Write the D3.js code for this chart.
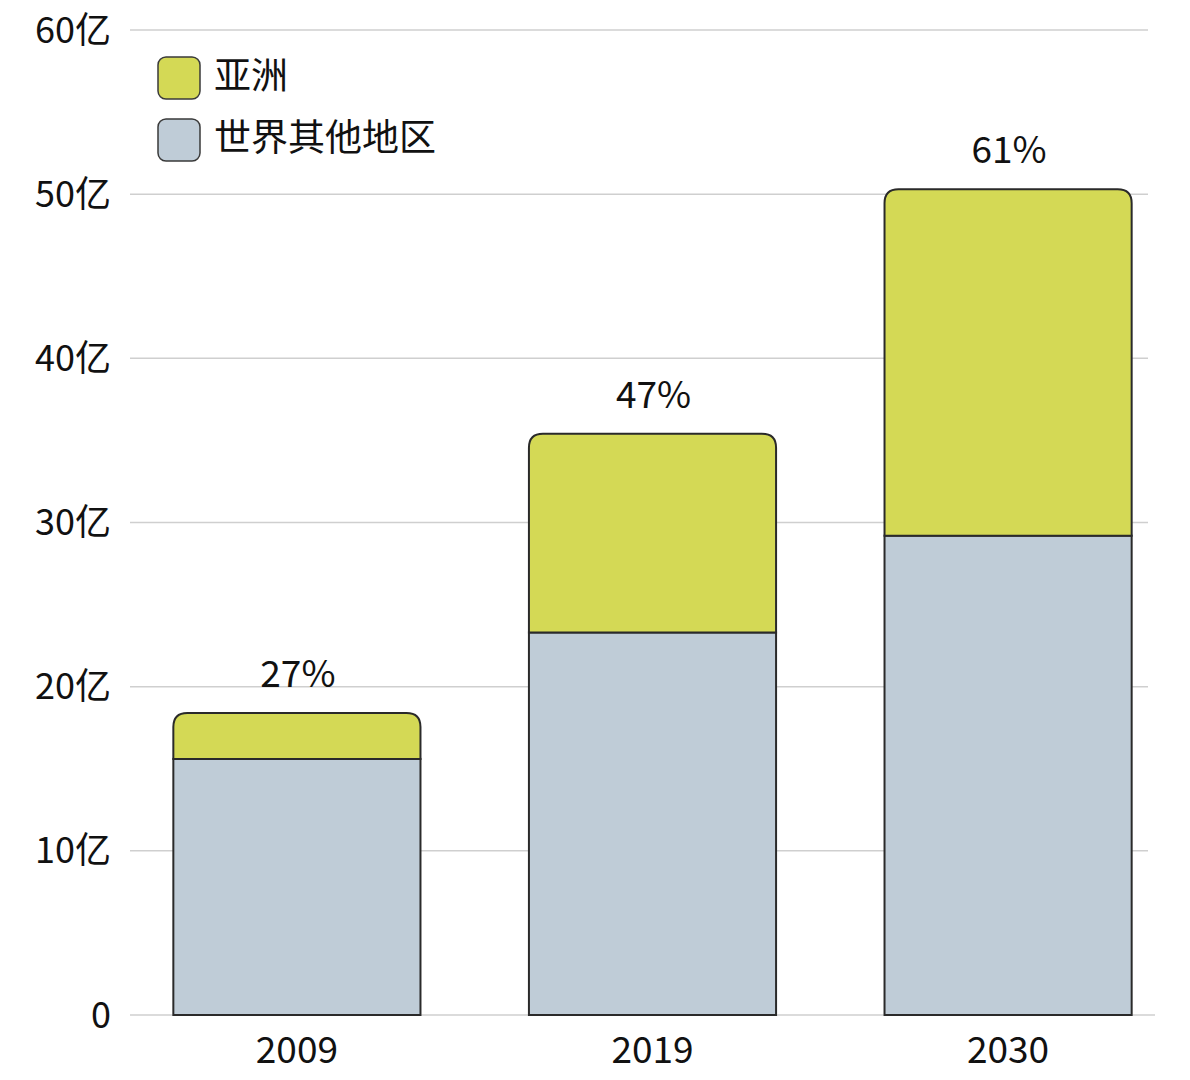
<!DOCTYPE html>
<html>
<head>
<meta charset="utf-8">
<script src="https://cdn.jsdelivr.net/npm/d3@7"></script>
<style>
  html, body { margin: 0; padding: 0; background: #fff; }
  svg { display: block; font-family: "Noto Sans CJK SC", "Noto Sans", sans-serif; }
</style>
</head>
<body>
<svg id="chart" width="1190" height="1080"></svg>
<script>
const years = ["2009", "2019", "2030"];
const restOfWorld = [15.6, 23.3, 29.2];   // 亿
const asia = [2.8, 12.1, 21.1];           // 亿
const shareLabels = ["27%", "47%", "61%"];
const yTicks = [0, 10, 20, 30, 40, 50, 60];
const yTickLabels = ["0", "10亿", "20亿", "30亿", "40亿", "50亿", "60亿"];
const seriesNames = ["亚洲", "世界其他地区"];
const seriesColors = ["#d4d955", "#bfccd7"];

const svg = d3.select("#chart");

const x = d3.scaleBand().domain(years).range([120, 1185]).paddingInner(0.305).paddingOuter(0.15);
const y = d3.scaleLinear().domain([0, 60]).range([1015, 30]);

// gridlines
svg.append("g").selectAll("line").data(yTicks).join("line")
  .attr("x1", 130).attr("x2", d => d === 0 ? 1155 : 1148)
  .attr("y1", d => y(d)).attr("y2", d => y(d))
  .attr("stroke", "#cfcfcf").attr("stroke-width", 1.5);

// y tick labels
svg.append("g").selectAll("text").data(yTicks).join("text")
  .attr("x", 111).attr("y", d => y(d))
  .attr("dy", "0.35em")
  .attr("text-anchor", "end")
  .attr("font-size", 36).attr("fill", "#111")
  .text((d, i) => yTickLabels[i]);

const stroke = "#2a2a2a";
const r = 14;

// rest of world rects
svg.append("g").selectAll("rect").data(years).join("rect")
  .attr("x", d => x(d))
  .attr("y", (d, i) => y(restOfWorld[i]))
  .attr("width", x.bandwidth())
  .attr("height", (d, i) => y(0) - y(restOfWorld[i]))
  .attr("fill", seriesColors[1])
  .attr("stroke", stroke).attr("stroke-width", 2);

// asia segment with rounded top
function roundedTop(x0, x1, yTop, yBot, rr) {
  return `M${x0},${yBot} L${x0},${yTop + rr} Q${x0},${yTop} ${x0 + rr},${yTop} L${x1 - rr},${yTop} Q${x1},${yTop} ${x1},${yTop + rr} L${x1},${yBot} Z`;
}
svg.append("g").selectAll("path").data(years).join("path")
  .attr("d", (d, i) => roundedTop(x(d), x(d) + x.bandwidth(), y(restOfWorld[i] + asia[i]), y(restOfWorld[i]), r))
  .attr("fill", seriesColors[0])
  .attr("stroke", stroke).attr("stroke-width", 2);

// share labels
svg.append("g").selectAll("text").data(years).join("text")
  .attr("x", d => x(d) + x.bandwidth() / 2 + 1)
  .attr("y", (d, i) => y(restOfWorld[i] + asia[i]) - 26)
  .attr("text-anchor", "middle")
  .attr("font-size", 37).attr("fill", "#111")
  .text((d, i) => shareLabels[i]);

// x axis labels
svg.append("g").selectAll("text").data(years).join("text")
  .attr("x", d => x(d) + x.bandwidth() / 2)
  .attr("y", 1063)
  .attr("text-anchor", "middle")
  .attr("font-size", 37).attr("fill", "#111")
  .text(d => d);

// legend
const lg = svg.append("g");
seriesNames.forEach((name, i) => {
  const yy = 57 + i * 62;
  lg.append("rect").attr("x", 158).attr("y", yy).attr("width", 42).attr("height", 42)
    .attr("rx", 8).attr("ry", 8)
    .attr("fill", seriesColors[i]).attr("stroke", "#3a3a3a").attr("stroke-width", 1.5);
  lg.append("text").attr("x", 214).attr("y", yy + 19).attr("dy", "0.36em")
    .attr("font-size", 37).attr("fill", "#111").text(name);
});
</script>
</body>
</html>
